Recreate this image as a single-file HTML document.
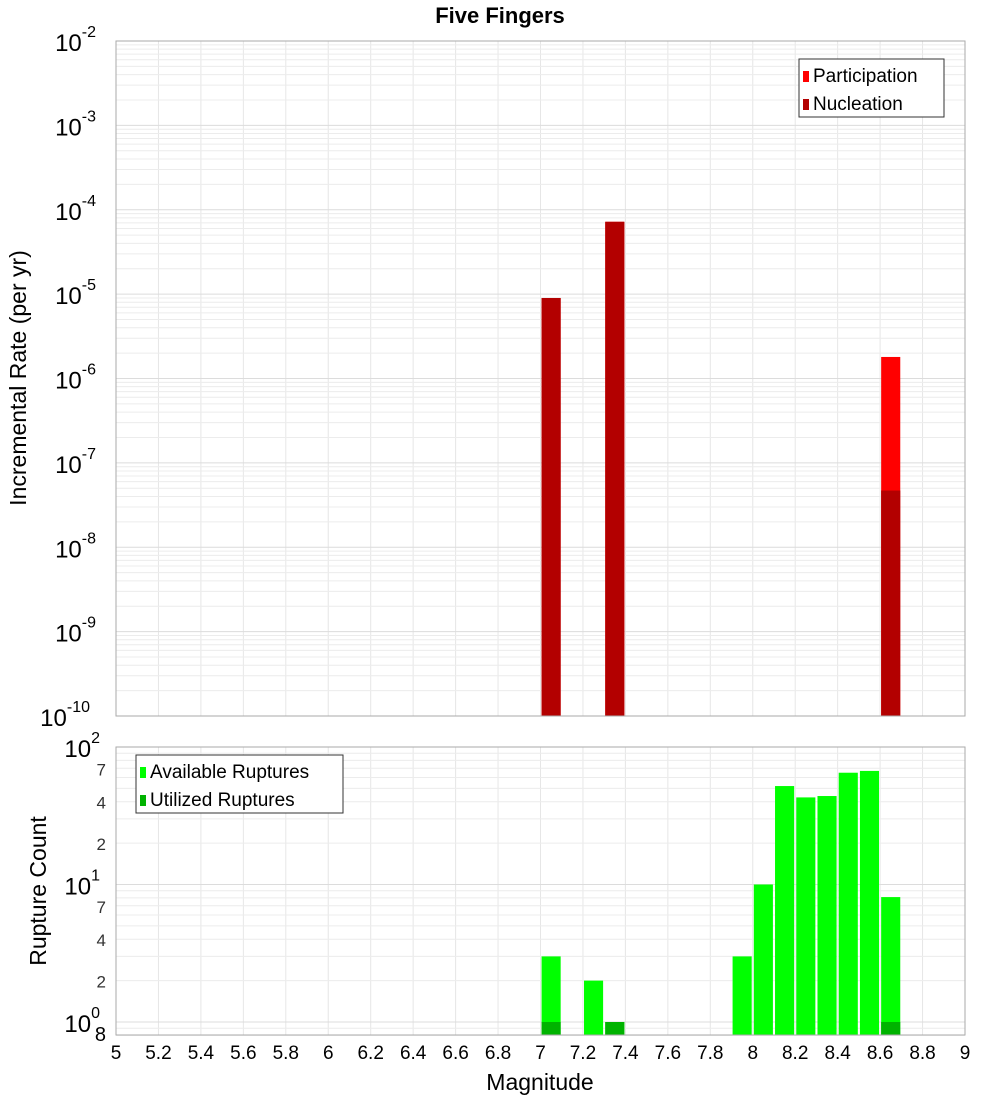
<!DOCTYPE html>
<html><head><meta charset="utf-8"><style>
body{margin:0;background:#fff;}
svg{font-family:"Liberation Sans","DejaVu Sans",sans-serif;}
</style></head><body>
<svg id="c" width="1000" height="1100" xmlns="http://www.w3.org/2000/svg"></svg>
<script>
const mags = [7.05, 7.35, 8.65];
const participation = [9.0e-6, 7.2e-5, 1.8e-6];
const nucleation = [9.0e-6, 7.2e-5, 4.7e-8];
const cntMags = [7.05, 7.25, 7.35, 7.95, 8.05, 8.15, 8.25, 8.35, 8.45, 8.55, 8.65];
const available = [3.0, 2.0, 1.0, 3.0, 10, 52, 43, 44, 65, 67, 8.1];
const utilized = [1, 0, 1, 0, 0, 0, 0, 0, 0, 0, 1];
const xTicks = [5,5.2,5.4,5.6,5.8,6,6.2,6.4,6.6,6.8,7,7.2,7.4,7.6,7.8,8,8.2,8.4,8.6,8.8,9];

const NS="http://www.w3.org/2000/svg", svg=document.getElementById('c');
function mk(t,a,p){const e=document.createElementNS(NS,t);for(const k in a)e.setAttribute(k,a[k]);(p||svg).appendChild(e);return e;}
const X0=116,X1=965;
const x=m=>X0+(m-5)/4*(X1-X0);
const T0=41,T1=716; const yt=v=>T0+(-2-Math.log10(v))/8*(T1-T0);
const B0=747,B1=1035; const DEC=137.5; const yb=v=>B0+(2-Math.log10(v))*DEC;
const bw=0.09*(X1-X0)/4;

// grids
function grid(top,bot,yf,decs){
  for(const t of xTicks){const l=mk('line',{x1:x(t),x2:x(t),y1:top,y2:bot,stroke:'#e6e6e6','stroke-width':1});}
  for(const d of decs){for(let k=1;k<10;k++){const yy=yf(k*Math.pow(10,d));if(yy<top-0.5||yy>bot+0.5)continue;const l=mk('line',{x1:X0,x2:X1,y1:yy,y2:yy,stroke:k==1?'#dcdcdc':'#ececec','stroke-width':1});}}
}
grid(T0,T1,yt,[-10,-9,-8,-7,-6,-5,-4,-3,-2]);
grid(B0,B1,yb,[-1,0,1,2]);

// top bars
mags.forEach((m,i)=>{
  const r=mk('rect',{x:x(m)-bw/2,y:yt(participation[i]),width:bw,height:T1-yt(participation[i]),fill:'#ff0000'});
  
  const n=mk('rect',{x:x(m)-bw/2,y:yt(nucleation[i]),width:bw,height:T1-yt(nucleation[i]),fill:'#b30000'});
  
});
// bottom bars
cntMags.forEach((m,i)=>{
  const r=mk('rect',{x:x(m)-bw/2,y:yb(available[i]),width:bw,height:B1-yb(available[i]),fill:'#00ff00'});
  
  if(utilized[i]>0){const u=mk('rect',{x:x(m)-bw/2,y:yb(utilized[i]),width:bw,height:B1-yb(utilized[i]),fill:'#00b300'});
  }
});
// frames
mk('rect',{x:X0,y:T0,width:X1-X0,height:T1-T0,fill:'none',stroke:'#aaa'});
mk('rect',{x:X0,y:B0,width:X1-X0,height:B1-B0,fill:'none',stroke:'#aaa'});

function txt(s,a,name){const t=mk('text',a);t.textContent=s;return t;}
function pow(yy,e,name,xr){const t=mk('text',{x:xr||102,y:yy+10,'font-size':24,'text-anchor':'end'});
  t.textContent='10';const s=mk('tspan',{dy:-14,'font-size':16},t);s.textContent=String(e);}
// top y ticks
for(let d=-10;d<=-2;d++) pow(yt(Math.pow(10,d)),d,'y-tick-label',d==-10?90:96);
// bottom y ticks
[0,1,2].forEach(d=>pow(yb(Math.pow(10,d)),d,'y-tick-label',100));
[[7,0],[4,0],[2,0],[7,-1]].forEach(()=>{});
[70,40,20,7,4,2].forEach(v=>txt(String(String(v)[0]),{x:106,y:yb(v)+7,'font-size':17,'text-anchor':'end',fill:'#333'},'y-minor-tick-label'));
txt('8',{x:106,y:1041,'font-size':20,'text-anchor':'end'},'y-minor-tick-label');
// x ticks
xTicks.forEach(t=>txt(String(t),{x:x(t),y:1059,'font-size':19,'text-anchor':'middle'},'x-tick-label'));
txt('Magnitude',{x:540,y:1090,'font-size':23,'text-anchor':'middle'},'x-axis-title');
txt('Five Fingers',{x:500,y:23,'font-size':22,'font-weight':'bold','text-anchor':'middle'},'chart-title');
txt('Incremental Rate (per yr)',{x:0,y:0,'font-size':23,'text-anchor':'middle',transform:'translate(26,378) rotate(-90)'},'y-axis-title');
txt('Rupture Count',{x:0,y:0,'font-size':23,'text-anchor':'middle',transform:'translate(46,891) rotate(-90)'},'y-axis-title-bottom');
// legends
function legend(x0,y0,w,items,name){const g=mk('g',{});
  mk('rect',{x:x0,y:y0,width:w,height:58,fill:'#fff',stroke:'#333'},g);
  items.forEach((it,i)=>{mk('rect',{x:x0+4,y:y0+12+i*28,width:6,height:11,fill:it[1]},g);
    const t=mk('text',{x:x0+14,y:y0+23+i*28,'font-size':19},g);t.textContent=it[0];});}
legend(799,59,145,[['Participation','#ff0000'],['Nucleation','#b30000']],'legend-top');
legend(136,755,207,[['Available Ruptures','#00ff00'],['Utilized Ruptures','#00b300']],'legend-bottom');
</script>
</body></html>
